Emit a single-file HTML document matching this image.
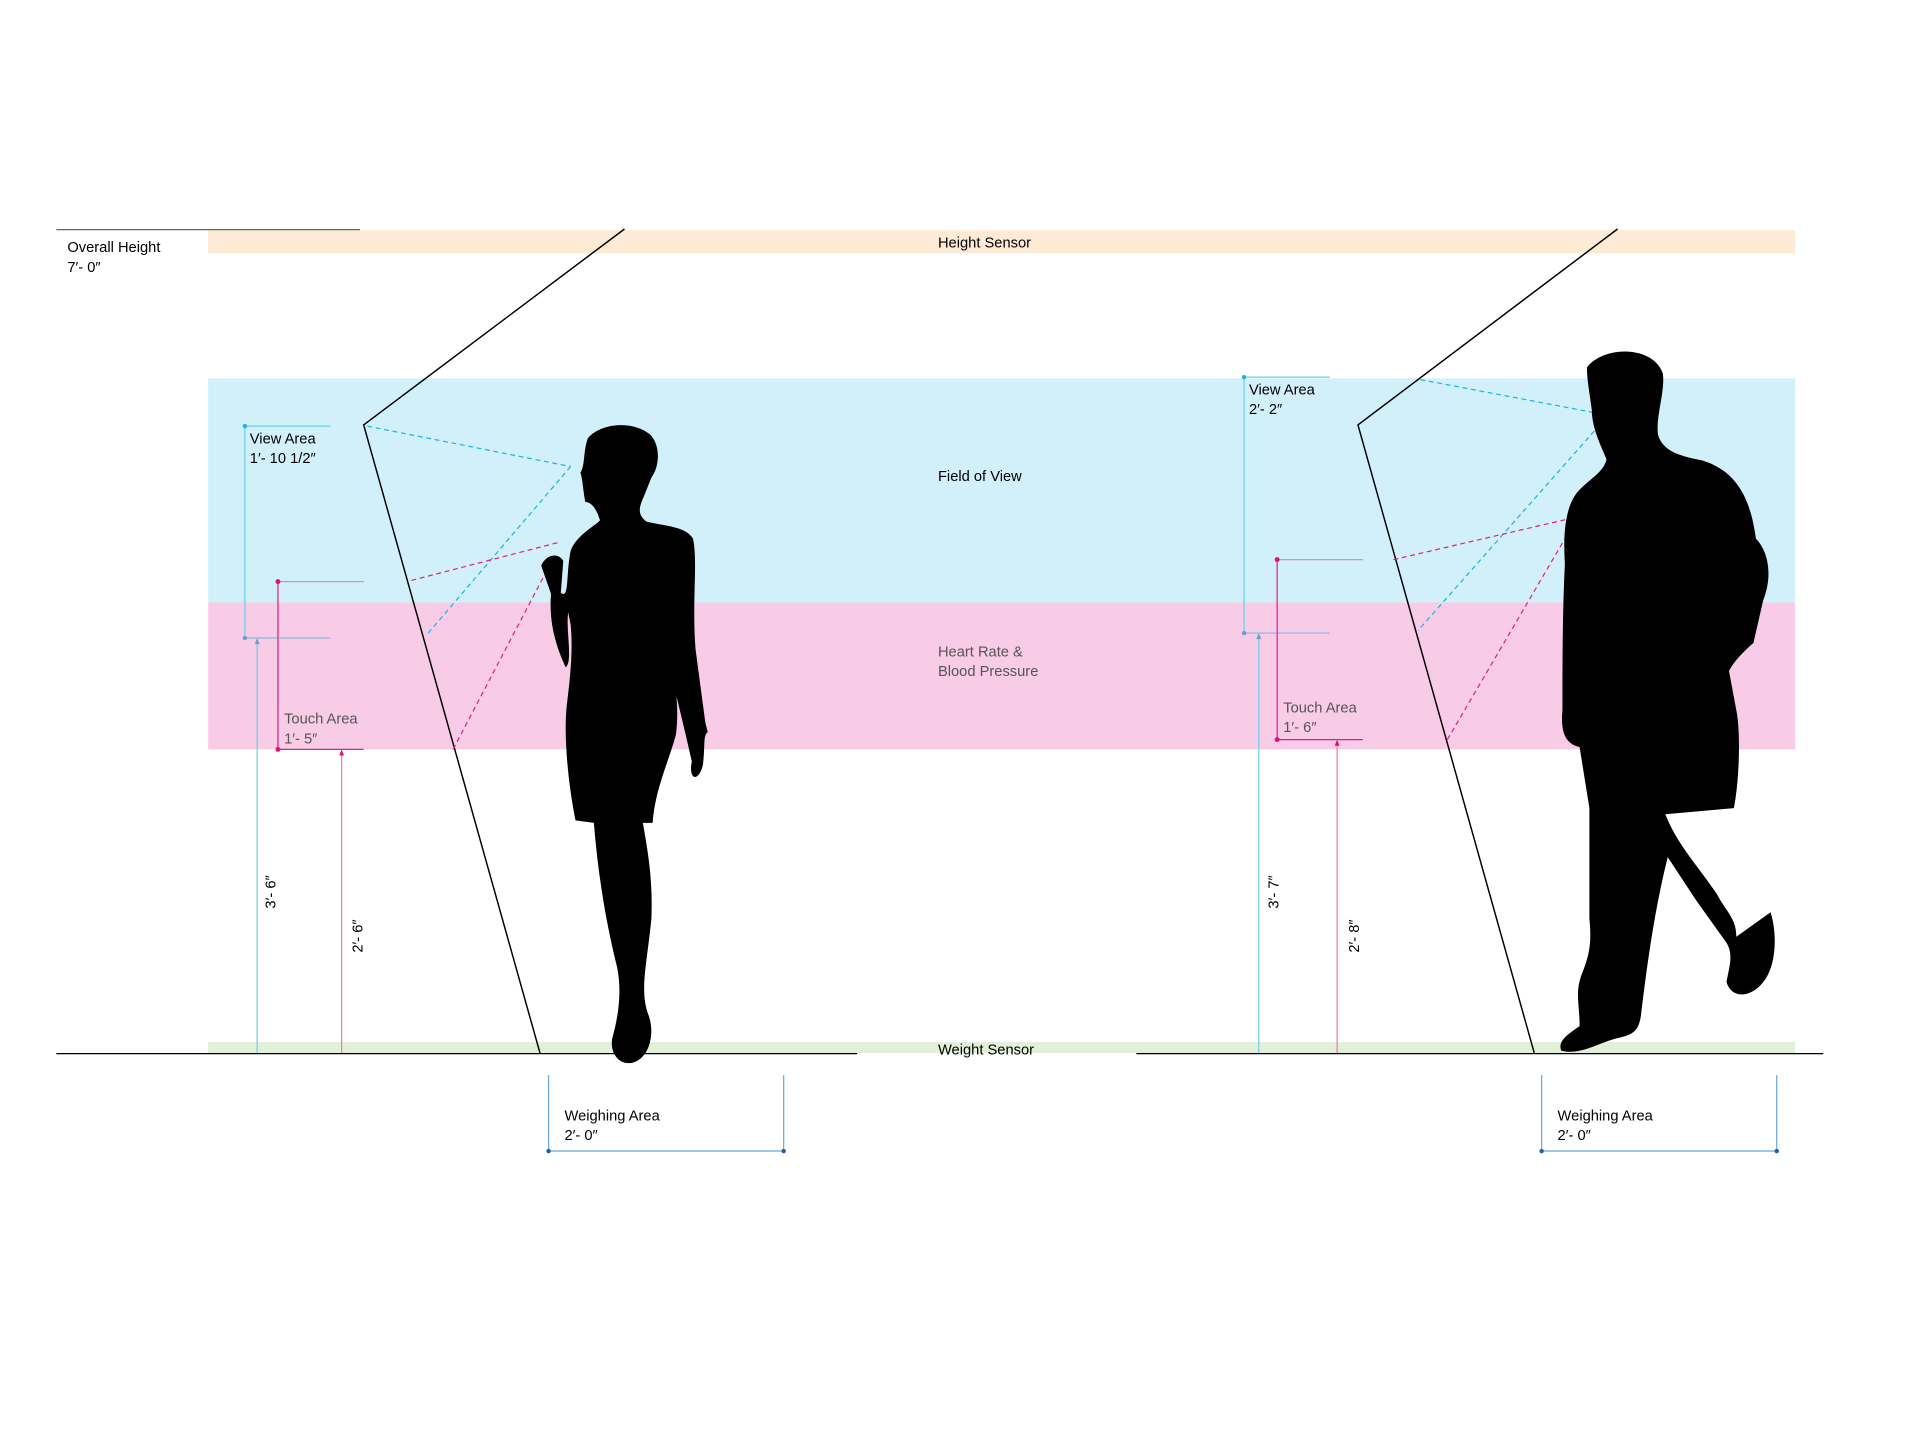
<!DOCTYPE html>
<html><head><meta charset="utf-8"><style>
html,body{margin:0;padding:0;background:#fff;}
svg{display:block;}
text{font-family:"Liberation Sans",sans-serif;font-size:12px;fill:#000;}
</style></head><body>
<svg width="1920" height="1440" viewBox="0 0 1568 1176" preserveAspectRatio="none">
<rect x="0" y="0" width="1568" height="1176" fill="#fff"/>
<rect x="170" y="188" width="1296" height="19" fill="#fdebd6"/>
<rect x="170" y="309" width="1296" height="183" fill="#d2f0fa"/>
<rect x="170" y="492" width="1296" height="120" fill="#f8cbe6"/>
<rect x="170" y="851" width="1296" height="9" fill="#e2efd9"/>
<text x="766" y="202">Height Sensor</text>
<text x="766" y="393">Field of View</text>
<text x="766" y="536" style="fill:#555">Heart Rate &amp;</text>
<text x="766" y="552" style="fill:#555">Blood Pressure</text>
<text x="766" y="861">Weight Sensor</text>
<line x1="46" y1="187.5" x2="294" y2="187.5" stroke="#666" stroke-width="1"/>
<text x="55" y="206">Overall Height</text>
<text x="55" y="222">7′- 0″</text>
<line x1="46" y1="860.5" x2="700" y2="860.5" stroke="#000"/>
<line x1="928" y1="860.5" x2="1489" y2="860.5" stroke="#000"/>
<polyline points="510,187 297,347 441,860" fill="none" stroke="#000" stroke-width="1.2"/>
<polyline points="1321,187 1109,347 1253,860" fill="none" stroke="#000" stroke-width="1.2"/>
<g>
<line x1="200" y1="348" x2="270" y2="348" stroke="#6cd0ea"/>
<line x1="200" y1="521" x2="270" y2="521" stroke="#8ab8dc"/>
<line x1="200" y1="348" x2="200" y2="521" stroke="#6cd0ea"/>
<circle cx="200" cy="348" r="1.8" fill="#1bb5e0"/><circle cx="200" cy="521" r="1.8" fill="#6aa0d0"/>
<text x="204" y="362">View Area</text><text x="204" y="378">1′- 10 1/2″</text>
<line x1="227" y1="475" x2="297" y2="475" stroke="#d08fd8"/>
<line x1="227" y1="612" x2="297" y2="612" stroke="#e0208a"/>
<line x1="227" y1="475" x2="227" y2="612" stroke="#e0208a"/>
<circle cx="227" cy="475" r="2" fill="#e0107a"/><circle cx="227" cy="612" r="2" fill="#e0107a"/>
<text x="232" y="591" style="fill:#555">Touch Area</text><text x="232" y="607" style="fill:#555">1′- 5″</text>
<line x1="210" y1="522" x2="210" y2="860" stroke="#6cd0ea"/>
<path d="M208,526 L210,521 L212,526Z" fill="#6aa0d0"/>
<line x1="279" y1="613" x2="279" y2="860" stroke="#f07ab8"/>
<path d="M277,617 L279,612 L281,617Z" fill="#e0107a"/>
<text transform="translate(225,742) rotate(-90)">3′- 6″</text>
<text transform="translate(296,778) rotate(-90)">2′- 6″</text>
<line x1="300" y1="348" x2="466" y2="381" stroke="#1bb5e0" stroke-dasharray="4,3"/>
<line x1="466" y1="381" x2="348" y2="519" stroke="#1bb5e0" stroke-dasharray="4,3"/>
<line x1="336" y1="474" x2="456" y2="443" stroke="#e0208a" stroke-dasharray="4,3"/>
<line x1="370" y1="612" x2="446" y2="467" stroke="#e0208a" stroke-dasharray="4,3"/>
</g>
<g>
<line x1="1016" y1="308" x2="1086" y2="308" stroke="#6cd0ea"/>
<line x1="1016" y1="517" x2="1086" y2="517" stroke="#8ab8dc"/>
<line x1="1016" y1="308" x2="1016" y2="517" stroke="#6cd0ea"/>
<circle cx="1016" cy="308" r="1.8" fill="#1bb5e0"/><circle cx="1016" cy="517" r="1.8" fill="#6aa0d0"/>
<text x="1020" y="322">View Area</text><text x="1020" y="338">2′- 2″</text>
<line x1="1043" y1="457" x2="1113" y2="457" stroke="#d08fd8"/>
<line x1="1043" y1="604" x2="1113" y2="604" stroke="#e0208a"/>
<line x1="1043" y1="457" x2="1043" y2="604" stroke="#e0208a"/>
<circle cx="1043" cy="457" r="2" fill="#e0107a"/><circle cx="1043" cy="604" r="2" fill="#e0107a"/>
<text x="1048" y="582" style="fill:#555">Touch Area</text><text x="1048" y="598" style="fill:#555">1′- 6″</text>
<line x1="1028" y1="518" x2="1028" y2="860" stroke="#6cd0ea"/>
<path d="M1026,522 L1028,517 L1030,522Z" fill="#6aa0d0"/>
<line x1="1092" y1="605" x2="1092" y2="860" stroke="#f07ab8"/>
<path d="M1090,609 L1092,604 L1094,609Z" fill="#e0107a"/>
<text transform="translate(1044,742) rotate(-90)">3′- 7″</text>
<text transform="translate(1110,778) rotate(-90)">2′- 8″</text>
<line x1="1160" y1="310" x2="1302" y2="337" stroke="#1bb5e0" stroke-dasharray="4,3"/>
<line x1="1302" y1="352" x2="1158" y2="515" stroke="#1bb5e0" stroke-dasharray="4,3"/>
<line x1="1138" y1="457" x2="1280" y2="424" stroke="#e0208a" stroke-dasharray="4,3"/>
<line x1="1182" y1="604" x2="1278" y2="440" stroke="#e0208a" stroke-dasharray="4,3"/>
</g>
<g>
<line x1="448" y1="878" x2="448" y2="940" stroke="#6aa8d8"/><line x1="640" y1="878" x2="640" y2="940" stroke="#6aa8d8"/>
<line x1="448" y1="940" x2="640" y2="940" stroke="#6aa8d8"/>
<circle cx="448" cy="940" r="1.8" fill="#1a5fa8"/><circle cx="640" cy="940" r="1.8" fill="#1a5fa8"/>
<text x="461" y="915">Weighing Area</text><text x="461" y="931">2′- 0″</text>
</g>
<g>
<line x1="1259" y1="878" x2="1259" y2="940" stroke="#6aa8d8"/><line x1="1451" y1="878" x2="1451" y2="940" stroke="#6aa8d8"/>
<line x1="1259" y1="940" x2="1451" y2="940" stroke="#6aa8d8"/>
<circle cx="1259" cy="940" r="1.8" fill="#1a5fa8"/><circle cx="1451" cy="940" r="1.8" fill="#1a5fa8"/>
<text x="1272" y="915">Weighing Area</text><text x="1272" y="931">2′- 0″</text>
</g>
<path fill="#000" d="M480,358 C492,344 520,344 532,356 C540,366 538,382 532,390 L526,405 C522,414 520,420 528,426 C545,430 560,430 566,440 C570,460 565,490 568,530 L576,590 L578,598 C574,600 576,610 574,625 C570,640 562,636 565,622 L560,600 L548,550 L543,500 C548,540 556,570 552,600 C545,625 535,645 533,672 L525,672 C530,700 533,720 532,750 C528,790 522,810 530,830 C535,845 530,865 516,868 C504,870 498,858 500,848 C505,830 508,810 504,790 C494,750 488,710 485,672 L470,670 C464,640 460,600 463,575 C466,550 468,530 466,510 L464,500 C462,515 468,540 462,545 C455,530 448,510 450,485 L442,462 C445,454 455,450 460,458 L458,484 C465,490 462,470 466,450 C470,438 485,430 490,425 C488,418 484,410 478,410 C476,400 476,392 474,386 C478,380 476,370 480,358Z"/>
<path fill="#000" d="M1296,300 C1310,282 1350,282 1358,305 C1360,320 1352,340 1354,355 C1358,368 1370,372 1390,376 C1420,385 1430,410 1434,440 C1444,450 1448,470 1440,490 L1432,525 C1424,532 1416,540 1412,548 L1418,580 C1422,600 1420,640 1416,660 L1360,665 C1370,690 1385,705 1402,730 C1410,745 1418,750 1418,765 L1446,745 C1452,765 1450,790 1440,802 C1430,815 1414,816 1410,802 C1412,790 1416,780 1410,770 L1385,735 L1362,700 C1352,740 1346,780 1340,830 C1338,842 1334,845 1320,848 C1305,852 1290,862 1275,858 C1272,850 1280,845 1290,838 C1290,820 1286,810 1292,795 C1298,780 1300,770 1298,750 L1298,660 L1290,610 C1280,608 1274,600 1276,580 C1276,540 1276,500 1278,460 C1276,430 1280,410 1290,400 C1300,390 1310,385 1312,375 C1308,365 1300,350 1300,335 C1298,320 1296,310 1296,300Z"/>
</svg>
</body></html>
